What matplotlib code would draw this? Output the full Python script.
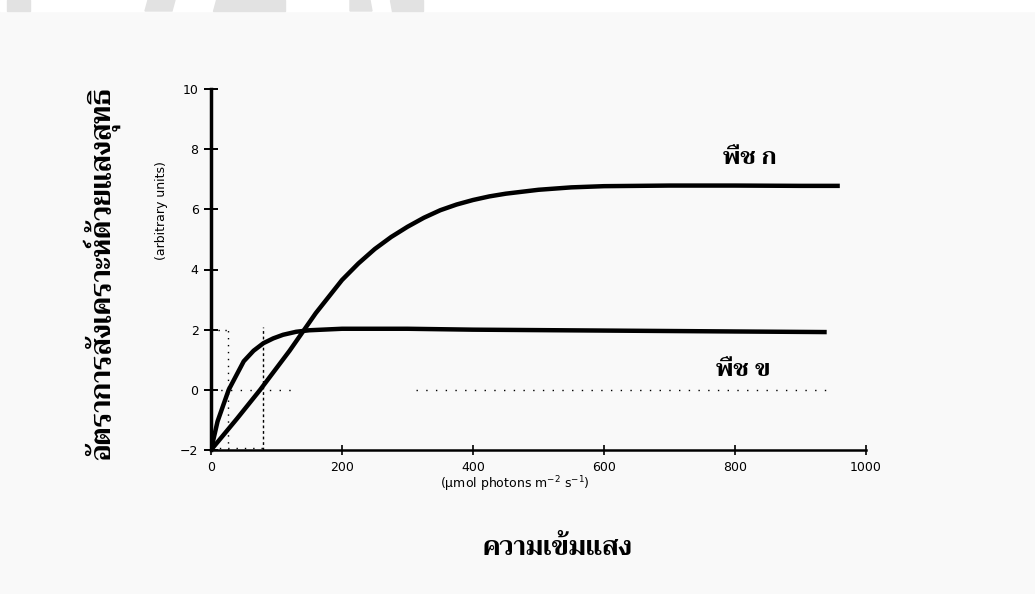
import matplotlib
matplotlib.use("Agg")
import matplotlib.pyplot as plt
from matplotlib import font_manager as fm
from matplotlib.ft2font import FT2Font
from matplotlib.patches import Rectangle, Polygon

# light intensity (umol photons m-2 s-1) and net photosynthesis
light_a = [0, 40, 75, 120, 160, 200, 225, 250, 275, 300, 325, 350, 375, 400, 425, 450, 500, 550, 600, 700, 800, 900, 960]
rate_a = [-2.0, -0.95, 0.0, 1.3, 2.55, 3.65, 4.2, 4.68, 5.08, 5.42, 5.72, 5.97, 6.16, 6.31, 6.43, 6.52, 6.65, 6.73, 6.77, 6.79, 6.79, 6.78, 6.78]

light_b = [0, 10, 27, 50, 65, 80, 95, 110, 130, 150, 200, 300, 400, 600, 800, 940]
rate_b = [-2.0, -1.05, 0.0, 0.95, 1.3, 1.55, 1.71, 1.83, 1.93, 1.98, 2.03, 2.03, 2.0, 1.97, 1.94, 1.92]

label_a = "พืช ก"
label_b = "พืช ข"
comp_a = 80   # dashed guide, plant a
comp_b = 26   # dotted guide, plant b

yticks = [-2, 0, 2, 4, 6, 8, 10]
xticks = [0, 200, 400, 600, 800, 1000]

# find a font with thai glyphs
thai_font = None
for f in fm.fontManager.ttflist:
    try:
        if 0x0E01 in FT2Font(f.fname).get_charmap():
            if thai_font is None or f.weight in ("bold", 700):
                thai_font = f.name
    except Exception:
        pass
fams = [thai_font, "DejaVu Sans"] if thai_font else ["DejaVu Sans"]

fig = plt.figure(figsize=(10.35, 5.94), dpi=100)
fig.patch.set_facecolor("#f9f9f9")

# white strip at the top of the screenshot
fig.patches.append(Rectangle((0, 1 - 11/594), 1, 11/594, transform=fig.transFigure, color="white"))
for pts in [[(7, 0), (30, 0), (30, 11), (7, 11)],
            [(148, 0), (175, 0), (172, 11), (145, 11)],
            [(216, 0), (285, 0), (285, 11), (213, 11)],
            [(350, 0), (370, 0), (372, 11), (350, 11)],
            [(390, 0), (423, 0), (423, 11), (392, 11)]]:
    fig.patches.append(Polygon([(x/1035, 1 - y/594) for x, y in pts], closed=True,
                               transform=fig.transFigure, color="#e2e2e2"))

ax = fig.add_axes([211/1035, 1 - 450/594, (866-211)/1035, 361/594])
ax.set_facecolor("#f9f9f9")

ax.plot(light_a, rate_a, color="black", lw=3.2, solid_capstyle="butt", solid_joinstyle="round")
ax.plot(light_b, rate_b, color="black", lw=3.2, solid_capstyle="butt", solid_joinstyle="round")

# guide lines
ax.plot([comp_b, comp_b], [-2, 2], color="black", lw=1, ls=(0, (1, 4)))
ax.plot([0, comp_b + 5], [2, 2], color="black", lw=1, ls=(0, (1, 4)))
ax.plot([comp_a, comp_a], [-2, 2.1], color="black", lw=1, ls=(0, (2, 2)))
ax.plot([0, 125], [0, 0], color="black", lw=1, ls=(0, (1, 6)))
ax.plot([313, 950], [0, 0], color="black", lw=1, ls=(0, (1, 6)))
ax.plot([0, comp_a], [-1.93, -1.93], color="black", lw=1, ls=(0, (1, 5)))

ax.text(823, 7.7, label_a, family=fams, fontsize=17, fontweight="bold", ha="center", va="center")
ax.text(812, 0.63, label_b, family=fams, fontsize=17, fontweight="bold", ha="center", va="center")

ax.set_xlim(0, 1000)
ax.set_ylim(-2, 10)
ax.set_xticks(xticks)
ax.set_yticks(yticks)
ax.tick_params(axis="y", direction="inout", length=10, width=1.4, labelsize=9, pad=4)
ax.tick_params(axis="x", direction="inout", length=6.5, width=1.2, labelsize=9, pad=5)
for s in ["top", "right"]:
    ax.spines[s].set_visible(False)
ax.spines["left"].set_linewidth(2.5)
ax.spines["bottom"].set_linewidth(1.8)

fig.text(161/1035, 1 - 211/594, "(arbitrary units)", fontsize=9, rotation=90, ha="center", va="center")
fig.text(102/1035, 1 - 274/594, "อัตราการสังเคราะห์ด้วยแสงสุทธิ", family=fams, fontsize=20,
         fontweight="bold", rotation=90, ha="center", va="center")
fig.text(515/1035, 1 - 484/594, "(μmol photons m$^{-2}$ s$^{-1}$)", fontsize=9, ha="center", va="center")
fig.text(558/1035, 1 - 548/594, "ความเข้มแสง", family=fams, fontsize=19, fontweight="bold",
         ha="center", va="center")

fig.savefig("out.png", dpi=100, facecolor=fig.get_facecolor())
